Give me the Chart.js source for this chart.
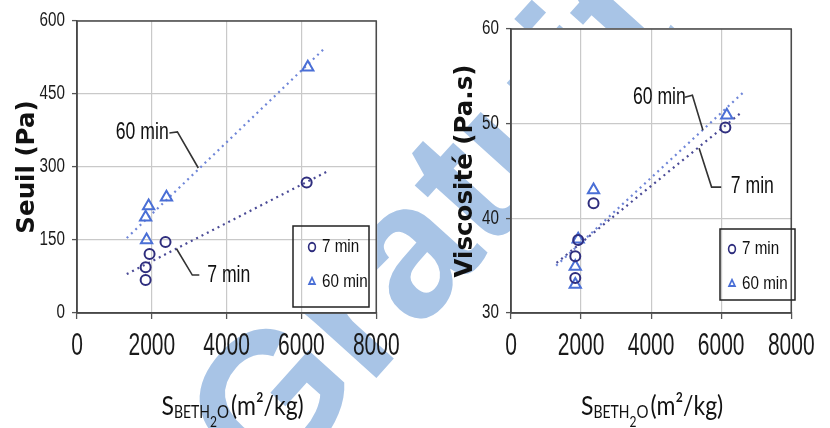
<!DOCTYPE html>
<html><head><meta charset="utf-8">
<script src="https://cdn.jsdelivr.net/npm/chart.js@4.4.1/dist/chart.umd.min.js"></script>
<style>
html,body{margin:0;padding:0;background:#fff;}
#stage{position:relative;width:830px;height:428px;overflow:hidden;background:#fff}
#wm{position:absolute;left:428px;top:222px;transform:translate(-50%,-50%) rotate(-48deg);font:bold 190px 'Liberation Sans',Arial,sans-serif;color:#a8c4e6;white-space:nowrap;line-height:1;z-index:0}
.pane{position:absolute;top:0;width:415px;height:428px;z-index:1}
</style></head><body>
<div id="stage">
<div id="wm">Gratuit</div>
<div class="pane" style="left:0"><canvas id="cSeuil" width="415" height="428"></canvas></div>
<div class="pane" style="left:415px"><canvas id="cVisc" width="415" height="428"></canvas></div>
</div>
<script>
// ---------- data ----------
const xTickValues = [0, 2000, 4000, 6000, 8000];
const seuilTickValues = [0, 150, 300, 450, 600];
const viscTickValues = [30, 40, 50, 60];
const seriesNames = ['7 min', '60 min'];

// Seuil (yield stress) panel
const seuilSurf7 = [1835, 1835, 1940, 2366, 6140];
const seuil7 = [68, 94, 121, 146, 268];
const seuilSurf60 = [1860, 1835, 1915, 2392, 6170];
const seuil60 = [150, 197, 220, 238, 505];
const seuilTrend60X = [1330, 6620];
const seuilTrend60Y = [154, 544];
const seuilTrend7X = [1330, 6670];
const seuilTrend7Y = [80, 290];

// Viscosité panel
const viscSurf7 = [1835, 1835, 1918, 2356, 6120];
const visc7 = [33.7, 36.0, 37.7, 41.6, 49.6];
const viscSurf60 = [1835, 1835, 1918, 2356, 6160];
const visc60 = [33.0, 34.9, 37.8, 43.0, 50.9];
const viscTrend60X = [1290, 6630];
const viscTrend60Y = [35.0, 53.3];
const viscTrend7X = [1300, 6550];
const viscTrend7Y = [35.3, 51.1];

const xy = (xs, ys) => xs.map((v, i) => ({x: v, y: ys[i]}));

// ---------- styles ----------
const FONT = "'Liberation Sans',Arial,sans-serif";
const C7 = '#2f2e7e';
const C60 = '#4a6fd6';
const T7 = '#4a4a96';
const T60 = '#6f86d8';

// ---------- plugins ----------
const frameLegend = {
  id: 'frameLegend',
  beforeDraw(chart, args, o) {
    const {ctx, chartArea: a} = chart;
    ctx.save();
    ctx.fillStyle = '#ffffff';
    ctx.fillRect(a.left, a.top, a.right - a.left, a.bottom - a.top);
    const b = o.legendBox;
    ctx.fillRect(b[0], b[1], b[2] - b[0], b[3] - b[1]);
    ctx.restore();
    const lg = chart.legend;
    if (lg) {
      lg.left = o.legendAt[0]; lg.top = o.legendAt[1];
      lg.width = 90; lg.height = 120;
      lg.right = lg.left + 90; lg.bottom = lg.top + 120;
    }
  },
  beforeDatasetsDraw(chart, args, o) {
    const {ctx, chartArea: a} = chart;
    ctx.save();
    ctx.strokeStyle = o.frameColor; ctx.lineWidth = 1.5;
    ctx.strokeRect(a.left, a.top, a.right - a.left, a.bottom - a.top);
    const b = o.legendBox;
    ctx.strokeStyle = '#222'; ctx.lineWidth = 1.5;
    ctx.strokeRect(b[0], b[1], b[2] - b[0], b[3] - b[1]);
    ctx.restore();
  }
};

// reshape label glyphs (tall, narrow lettering of the original figure)
const glyphShape = {
  id: 'glyphShape',
  afterLayout(chart, args, o) {
    const xs = chart.scales.x, ys = chart.scales.y, lg = chart.legend;
    if (!xs._shaped) {
      const ox = xs.drawLabels;
      xs.drawLabels = function (area) {
        const ctx = this.ctx, yc = this.top + o.xCenter;
        ctx.save(); ctx.translate(0, yc); ctx.scale(1, o.xStretch); ctx.translate(0, -yc);
        ox.call(this, area); ctx.restore();
      };
      xs._shaped = true;
    }
    if (!ys._shaped) {
      const oy = ys.drawLabels;
      ys.drawLabels = function (area) {
        const ctx = this.ctx, xr = this.right - o.yRight;
        ctx.save(); ctx.translate(xr, 0); ctx.scale(o.yCompress, 1); ctx.translate(-xr, 0);
        oy.call(this, area); ctx.restore();
      };
      ys._shaped = true;
    }
    if (lg && !lg._shaped) {
      const ol = lg.draw;
      lg.draw = function (area) {
        const ctx = this.ctx, px = this.left + this.options.labels.padding;
        ctx.save(); ctx.translate(px, 0); ctx.scale(o.legendCompress, 1); ctx.translate(-px, 0);
        ol.call(this, area); ctx.restore();
      };
      lg._shaped = true;
    }
  }
};

const notes = {
  id: 'notes',
  afterDatasetsDraw(chart, args, o) {
    const {ctx, scales: {x, y}} = chart;
    ctx.save();
    (o.items || []).forEach(n => {
      ctx.strokeStyle = o.lineColor; ctx.lineWidth = o.lineWidth;
      ctx.beginPath();
      n.path.forEach((p, i) => {
        const px = x.getPixelForValue(p[0]), py = y.getPixelForValue(p[1]);
        if (i) ctx.lineTo(px, py); else ctx.moveTo(px, py);
      });
      ctx.stroke();
      const tx = x.getPixelForValue(n.at[0]), ty = y.getPixelForValue(n.at[1]);
      ctx.save();
      ctx.translate(tx, ty); ctx.scale(o.sx, o.sy);
      ctx.font = o.font; ctx.fillStyle = o.color;
      ctx.textBaseline = 'middle'; ctx.textAlign = 'left';
      ctx.fillText(n.text, 0, 0);
      ctx.restore();
    });
    ctx.restore();
  }
};

const xTitle = {
  id: 'xTitle',
  afterDraw(chart, args, o) {
    const ctx = chart.ctx, a = chart.chartArea;
    ctx.save();
    ctx.fillStyle = o.color; ctx.textBaseline = 'alphabetic'; ctx.textAlign = 'left';
    const widths = o.parts.map(p => { ctx.font = p.size + 'px ' + o.family; return ctx.measureText(p.text).width + (p.gap || 0); });
    const total = widths.reduce((s, w) => s + w, 0);
    let cx = (a.left + a.right) / 2 + o.dx - total / 2;
    o.parts.forEach((p, i) => {
      ctx.save();
      ctx.font = p.size + 'px ' + o.family;
      ctx.translate(cx + (p.gap || 0), o.baseline + p.dy);
      ctx.scale(1, o.stretch);
      ctx.fillText(p.text, 0, 0);
      ctx.restore();
      cx += widths[i];
    });
    ctx.restore();
  }
};

const titleParts = [
  {text: 'S', size: 23, dy: 0},
  {text: 'BETH', size: 14, dy: 3},
  {text: '2', size: 12, dy: 12},
  {text: 'O', size: 15, dy: 3},
  {text: '(m²/kg)', size: 23, dy: 0, gap: 2}
];

function makeChart(id, p) {
  return new Chart(document.getElementById(id), {
    type: 'scatter',
    data: {
      datasets: [
        {label: seriesNames[0], data: p.d7, pointStyle: 'circle', pointRadius: 5, pointBorderWidth: 2,
         borderColor: C7, backgroundColor: 'rgba(0,0,0,0)', pointBackgroundColor: 'rgba(0,0,0,0)'},
        {label: seriesNames[1], data: p.d60, pointStyle: 'triangle', pointRadius: 6.5, pointBorderWidth: 2,
         borderColor: C60, backgroundColor: 'rgba(0,0,0,0)', pointBackgroundColor: 'rgba(0,0,0,0)'},
        {label: 'trend60', data: p.t60, showLine: true, pointRadius: 0, borderColor: T60, borderWidth: 2.2, borderDash: [2, 4]},
        {label: 'trend7', data: p.t7, showLine: true, pointRadius: 0, borderColor: T7, borderWidth: 2.2, borderDash: [2, 4]}
      ]
    },
    options: {
      responsive: false, animation: false,
      layout: {padding: {left: 0, top: p.padTop, right: p.padRight, bottom: 0}},
      plugins: {
        tooltip: {enabled: false},
        legend: {
          position: 'chartArea', align: 'start',
          labels: {
            filter: it => it.datasetIndex < 2,
            usePointStyle: true, boxWidth: 6, boxHeight: 6, padding: 16,
            font: {family: FONT, size: 19}, color: '#111'
          }
        },
        frameLegend: {legendBox: p.legendBox, legendAt: p.legendAt, frameColor: '#4a4a4a'},
        glyphShape: {xCenter: 34, xStretch: 1.45, yRight: 12, yCompress: 0.78, legendCompress: 0.8},
        notes: {items: p.notes, lineColor: '#333', lineWidth: 1.6, font: '21px ' + FONT, color: '#111', sx: 0.84, sy: 1.1},
        xTitle: {parts: titleParts, family: "Lato, 'Open Sans', sans-serif", color: '#111', baseline: 415, dx: p.titleDx, stretch: 1.2}
      },
      scales: {
        x: {
          type: 'linear', min: xTickValues[0], max: xTickValues[xTickValues.length - 1],
          afterBuildTicks: s => { s.ticks = xTickValues.map(v => ({value: v})); },
          afterFit: s => { s.height = 115; },
          ticks: {font: {family: FONT, size: 21}, color: '#1a1a1a', padding: 15.4, maxRotation: 0, autoSkip: false, callback: v => String(v)},
          grid: {color: '#c9c9c9', lineWidth: 1.2, tickLength: 6, tickColor: '#555', tickWidth: 1.3},
          border: {color: '#444', width: 1.5}
        },
        y: {
          type: 'linear', min: p.yTicks[0], max: p.yTicks[p.yTicks.length - 1],
          afterBuildTicks: s => { s.ticks = p.yTicks.map(v => ({value: v})); },
          afterFit: s => { s.width = p.yWidth; },
          title: {display: true, text: p.yTitle, font: {family: "'DejaVu Sans',sans-serif", weight: 'bold', size: 24.5}, color: '#111', padding: {top: p.yTitlePad, bottom: 0}},
          ticks: {font: {family: FONT, size: 19.5}, color: '#1a1a1a', padding: 7, callback: v => String(v)},
          grid: {color: '#c9c9c9', lineWidth: 1.2, tickLength: 5, tickColor: '#555', tickWidth: 1.3},
          border: {color: '#444', width: 1.5}
        }
      }
    },
    plugins: [frameLegend, glyphShape, notes, xTitle]
  });
}

makeChart('cSeuil', {
  d7: xy(seuilSurf7, seuil7), d60: xy(seuilSurf60, seuil60),
  t60: xy(seuilTrend60X, seuilTrend60Y), t7: xy(seuilTrend7X, seuilTrend7Y),
  yTicks: seuilTickValues, yTitle: 'Seuil (Pa)', yWidth: 77, yTitlePad: 13,
  padTop: 21, padRight: 37, titleDx: 6,
  legendBox: [293, 226, 369, 307], legendAt: [293.6, 221.5],
  notes: [
    {text: '60 min', at: [1036, 370], path: [[2470, 370], [2684, 372], [3243, 298]]},
    {text: '7 min', at: [3480, 76], path: [[2660, 132], [3083, 78], [3270, 78]]}
  ]
});

makeChart('cVisc', {
  d7: xy(viscSurf7, visc7), d60: xy(viscSurf60, visc60),
  t60: xy(viscTrend60X, viscTrend60Y), t7: xy(viscTrend7X, viscTrend7Y),
  yTicks: viscTickValues, yTitle: 'Viscosité (Pa.s)', yWidth: 96, yTitlePad: 36,
  padTop: 29, padRight: 27, titleDx: 1,
  legendBox: [305, 229, 380, 300], legendAt: [298.6, 223.5],
  notes: [
    {text: '60 min', at: [3480, 52.7], path: [[4959, 52.8], [5178, 53.0], [5479, 49.3]]},
    {text: '7 min', at: [6274, 43.3], path: [[5370, 47.4], [5726, 43.3], [6000, 43.3]]}
  ]
});
</script>
</body></html>
